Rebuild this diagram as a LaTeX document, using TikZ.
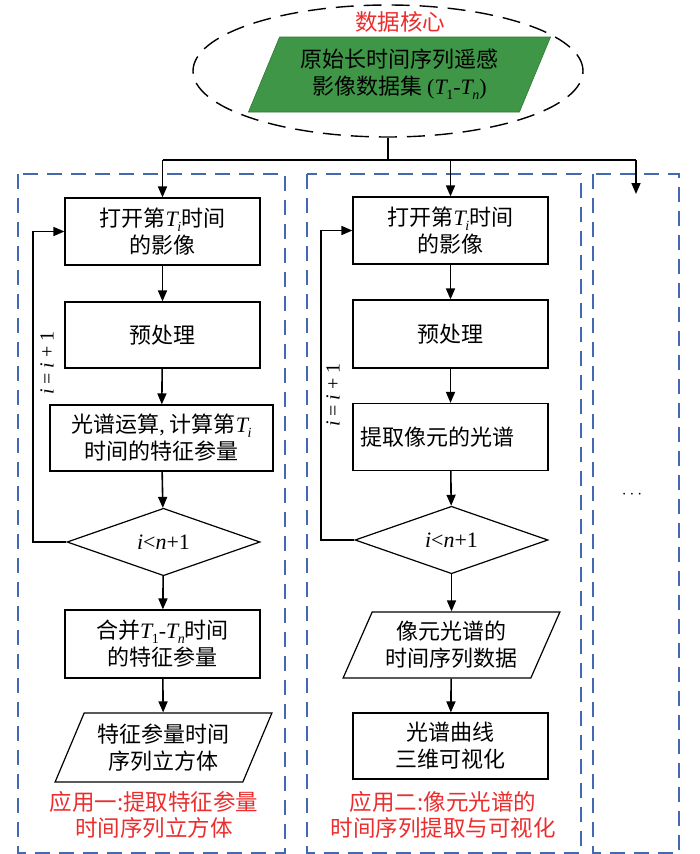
\documentclass[tikz,border=0pt]{standalone}
\usepackage{fontspec}
\setmainfont{Noto Sans CJK SC}
\newfontfamily\lserif{Liberation Serif}
\usetikzlibrary{shapes.geometric,arrows.meta}
\newcommand\fsz{\fontsize{22}{27}\selectfont}
% T with subscript in Times-like font
\newcommand\Tsub[1]{{\lserif\itshape T}\kern-0.5pt\raisebox{-0.22em}{\lserif\fontsize{14}{14}\selectfont #1}}
\newcommand\vi{{\lserif\itshape i}}
\newcommand\vn{{\lserif\itshape n}}
\definecolor{bluedash}{RGB}{68,105,178}
\definecolor{redtxt}{RGB}{235,45,45}
\definecolor{greenfill}{RGB}{62,150,70}
\begin{document}
\begin{tikzpicture}[x=1pt,y=-1pt,
  stepbox/.style={draw, line width=1.2pt, rectangle, inner sep=0pt, align=center, font=\fsz},
  decide/.style={draw, line width=1.2pt, diamond, inner sep=0pt, font=\fontsize{22}{24}\selectfont},
  databox/.style={draw, line width=1.2pt, trapezium, trapezium left angle=63, trapezium right angle=117,
     trapezium stretches=true, inner sep=0pt, align=center, font=\fsz},
  conn/.style={line width=1.6pt, -{Triangle[length=11pt,width=9pt]}},
  plain/.style={line width=1.6pt},
  frame/.style={draw=bluedash, line width=1.2pt, dash pattern=on 15pt off 9pt},
  redlabel/.style={text=redtxt, align=center, font=\fontsize{22.5}{26}\selectfont},
  inclabel/.style={rotate=90, font=\fontsize{20}{22}\selectfont}
]
\useasboundingbox (0,0) rectangle (700,854);

% frames
\draw[frame] (18,174) rectangle (285,853);
\draw[frame] (307,174) rectangle (581,853);
\draw[frame] (593,174) rectangle (679,853);

% data core
\node[draw, line width=1.4pt, dash pattern=on 18pt off 10pt, ellipse, minimum width=390, minimum height=132, inner sep=0pt] (core) at (388,71) {};
\node[redlabel] (coretitle) at (400,22) {数据核心};
\node[databox, fill=greenfill, draw=greenfill!80!black, line width=0.6pt, minimum width=303, minimum height=75] (raw) at (399.5,74.5) {原始长时间序列遥感\\影像数据集 {\lserif(}\Tsub{1}{\lserif -}\Tsub{\itshape n}{\lserif)}};

% left column
\node[stepbox, minimum width=195, minimum height=67] (b1L) at (162.5,231.5) {打开第\Tsub{\itshape i}时间\\的影像};
\node[stepbox, minimum width=195, minimum height=66] (b2L) at (162.5,335) {预处理};
\node[stepbox, minimum width=223, minimum height=66] (b3L) at (161.5,438) {光谱运算{\lserif,} 计算第\Tsub{\itshape i}\\时间的特征参量};
\node[decide, minimum width=193, minimum height=66] (dL) at (163.5,542) {\vi{\lserif <}\vn{\lserif +1}};
\node[stepbox, minimum width=195, minimum height=68] (b4L) at (162.5,644) {合并\Tsub{1}{\lserif -}\Tsub{\itshape n}时间\\的特征参量};
\node[databox, minimum width=217, minimum height=69] (pL) at (163.5,747.5) {特征参量时间\\序列立方体};
\node[redlabel] (labL) at (154,815) {应用一:提取特征参量\\时间序列立方体};

% middle column
\node[stepbox, minimum width=195, minimum height=67] (b1M) at (450.5,230.5) {打开第\Tsub{\itshape i}时间\\的影像};
\node[stepbox, minimum width=195, minimum height=68] (b2M) at (450.5,334) {预处理};
\node[stepbox, minimum width=195, minimum height=67] (b3M) at (450.5,437) {\hspace*{-26pt}提取像元的光谱};
\node[decide, minimum width=193, minimum height=66] (dM) at (451.5,540) {\vi{\lserif <}\vn{\lserif +1}};
\node[databox, minimum width=217, minimum height=66] (pM) at (451.5,645) {像元光谱的\\时间序列数据};
\node[stepbox, minimum width=195, minimum height=66] (b5M) at (450.5,746) {光谱曲线\\三维可视化};
\node[redlabel] (labM) at (443,815) {应用二:像元光谱的\\时间序列提取与可视化};

% right column
\node[font=\fontsize{16}{18}\selectfont] (dots) at (632,495) {$\cdots$};

% distribution
\coordinate (split) at (388,160);
\coordinate (jL) at (b1L.north |- split);
\coordinate (jM) at (b1M.north |- split);
\coordinate (jR) at (636,160);
\coordinate (endR) at (636,194);
\draw[plain] (core.south) -- (split);
\draw[plain] (jL) -- (jR);
\draw[conn] (jL) -- (b1L.north);
\draw[conn] (jM) -- (b1M.north);
\draw[conn] (jR) -- (endR);

% left flow
\draw[conn] (b1L) -- (b2L);
\draw[conn] (b2L) -- (b3L);
\draw[conn] (b3L) -- (dL);
\draw[conn] (dL) -- (b4L);
\draw[conn] (b4L) -- (pL);
\coordinate (loopL) at (33,542);
\draw[conn] (dL.west) -- (loopL) |- (b1L.west);
\node[inclabel] (incL) at (47,363) {\vi{\lserif\ = }\vi{\lserif\ + 1}};

% middle flow
\draw[conn] (b1M) -- (b2M);
\draw[conn] (b2M) -- (b3M);
\draw[conn] (b3M) -- (dM);
\draw[conn] (dM) -- (pM);
\draw[conn] (pM) -- (b5M);
\coordinate (loopM) at (321,540);
\draw[conn] (dM.west) -- (loopM) |- (b1M.west);
\node[inclabel] (incM) at (333,395) {\vi{\lserif\ = }\vi{\lserif\ + 1}};
\end{tikzpicture}
\end{document}
